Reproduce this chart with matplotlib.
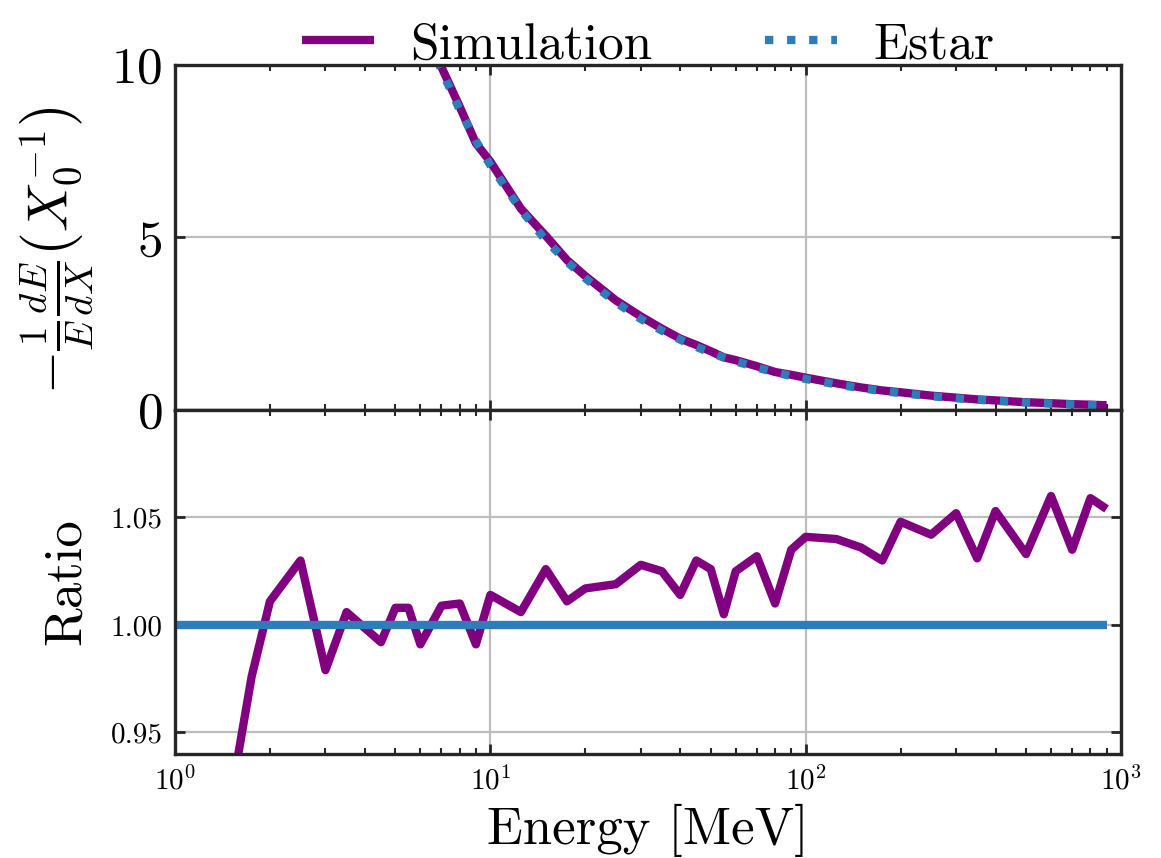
import numpy as np
import matplotlib
matplotlib.use('Agg')
import matplotlib.pyplot as plt

plt.rcParams['font.family'] = 'serif'
plt.rcParams['font.serif'] = ['cmr10']
plt.rcParams['mathtext.fontset'] = 'cm'
plt.rcParams['axes.unicode_minus'] = False
plt.rcParams['axes.formatter.use_mathtext'] = True

# ---- data ----
estar_energy = [1, 1.25, 1.5, 1.75, 2, 2.5, 3, 3.5, 4.5, 5, 5.5, 6, 7, 8, 9, 10,
                12.5, 15, 17.5, 20, 25, 30, 35, 40, 45, 50, 55, 60, 70, 80, 90,
                100, 125, 150, 175, 200, 250, 300, 350, 400, 500, 600, 700, 800, 900]
estar_loss = [60.0, 49.0, 41.5, 36.0, 31.8, 25.8, 21.8, 18.8, 14.8, 13.4, 12.2, 11.3,
              9.85, 8.7, 7.8, 7.1, 5.8, 4.92, 4.3, 3.82, 3.12, 2.64, 2.3, 2.04, 1.83,
              1.66, 1.52, 1.41, 1.23, 1.09, 0.985, 0.90, 0.745, 0.63, 0.55, 0.49,
              0.40, 0.34, 0.298, 0.265, 0.218, 0.186, 0.163, 0.145, 0.13]

sim_energy = [1.5, 1.75, 2, 2.5, 3, 3.5, 4.5, 5, 5.5, 6, 7, 8, 9, 10, 12.5, 15, 17.5,
              20, 25, 30, 35, 40, 45, 50, 55, 60, 70, 80, 90, 100, 125, 150, 175, 200,
              250, 300, 350, 400, 500, 600, 700, 800, 900]
sim_ratio = [0.919, 0.976, 1.011, 1.030, 0.979, 1.006, 0.992, 1.008, 1.008, 0.991,
             1.009, 1.010, 0.991, 1.014, 1.006, 1.026, 1.011, 1.017, 1.019, 1.028,
             1.025, 1.014, 1.030, 1.026, 1.005, 1.025, 1.032, 1.010, 1.035, 1.041,
             1.040, 1.036, 1.030, 1.048, 1.042, 1.052, 1.031, 1.053, 1.033, 1.060,
             1.035, 1.059, 1.054]

top_yticks = [0, 5, 10]
bottom_yticks = [0.95, 1.00, 1.05]
bottom_yticklabels = ['0.95', '1.00', '1.05']

# simulation loss = estar loss at same energy * ratio
estar_map = dict(zip(estar_energy, estar_loss))
sim_loss = [estar_map[e] * r for e, r in zip(sim_energy, sim_ratio)]
estar_ratio = [v / v for v in estar_loss]

PURPLE = '#800080'
BLUE = '#2e7cb8'
SPINE = '#262626'
GRID = '#bdbdbd'

fig = plt.figure(figsize=(11.61, 8.58), dpi=100)
left, right = 175 / 1161, 1121 / 1161
top_y, mid_y, bot_y = 65 / 858, 410 / 858, 754 / 858
ax1 = fig.add_axes([left, 1 - mid_y, right - left, mid_y - top_y])
ax2 = fig.add_axes([left, 1 - bot_y, right - left, bot_y - mid_y], sharex=ax1)

lw = 6
ax1.plot(sim_energy, sim_loss, color=PURPLE, lw=lw, label='Simulation', solid_capstyle='butt')
ax1.plot(estar_energy, estar_loss, color=BLUE, lw=lw, ls=':', label='Estar')
ax2.plot(sim_energy, sim_ratio, color=PURPLE, lw=lw, solid_capstyle='butt')
ax2.plot(estar_energy, estar_ratio, color=BLUE, lw=lw, solid_capstyle='butt')

ax1.set_xscale('log')
ax1.set_xlim(1, 1000)
ax1.set_ylim(0, 10)
ax2.set_ylim(0.94, 1.1)
ax1.set_yticks(top_yticks)
ax2.set_yticks(bottom_yticks)
ax2.set_yticklabels(bottom_yticklabels)

for ax in (ax1, ax2):
    ax.grid(True, which='major', color=GRID, lw=1.6)
    ax.set_axisbelow(True)
    for s in ax.spines.values():
        s.set_linewidth(2.4)
        s.set_color(SPINE)
    ax.tick_params(which='both', direction='in', top=True, right=True, color=SPINE)
    ax.tick_params(which='major', length=7, width=2)
    ax.tick_params(which='minor', length=4, width=1.5)

ax1.tick_params(axis='x', labelbottom=False)
ax1.tick_params(axis='y', labelsize=37, pad=9)
ax2.tick_params(axis='y', labelsize=21, pad=9)
ax2.tick_params(axis='x', labelsize=21, pad=9)

ax1.set_ylabel(r'$-\frac{1}{E}\frac{dE}{dX}\left(X_0^{-1}\right)$', fontsize=40)
ax2.set_ylabel('Ratio', fontsize=38)
ax2.set_xlabel('Energy [MeV]', fontsize=38, labelpad=6)
ax1.yaxis.set_label_coords(-0.085, 0.465)
ax2.yaxis.set_label_coords(-0.09, 0.5)

ax1.legend(loc='lower center', bbox_to_anchor=(0.5, 0.99), ncol=2, frameon=False,
           fontsize=37, handlelength=1.4, columnspacing=2.2, handletextpad=0.7,
           borderaxespad=0.0, borderpad=0.0)

fig.savefig('out.png', dpi=100)
